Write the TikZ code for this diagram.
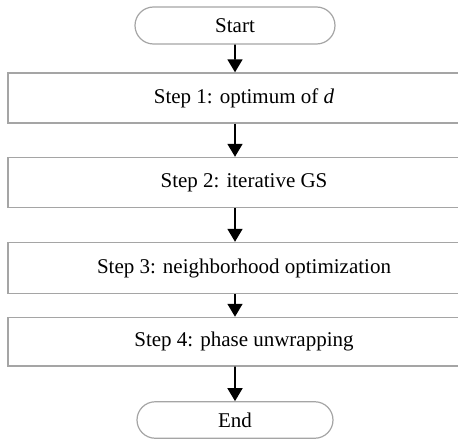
\documentclass[tikz,border=0pt]{standalone}
\usepackage{fontspec}
\setmainfont{Liberation Serif}
\usepackage{xcolor}
\usepackage{tikz}
\usetikzlibrary{arrows.meta, positioning, shapes.misc}
\definecolor{boxgray}{RGB}{165,165,165}

\begin{document}
\begin{tikzpicture}[
  x=1pt, y=-1pt,
  font=\fontsize{21}{24}\selectfont,
  term/.style={draw=boxgray, line width=1.2pt, rounded rectangle, inner sep=0pt, minimum width=200pt, minimum height=37pt},
  stepbox/.style={draw=boxgray, line width=1.4pt, inner sep=0pt, minimum width=472pt, minimum height=50pt},
  edge/.style={-{Triangle[width=15pt, length=13pt]}, line width=1.7pt}
]
\useasboundingbox (0,0) rectangle (458,441);
\node[term] (start) at (235,25.5) {Start};
\node[stepbox] (s1) at (244,98) {Step 1: optimum of \textit{d}};
\node[stepbox] (s2) at (244,182.5) {Step 2: iterative GS};
\node[stepbox, minimum height=51pt] (s3) at (244,268) {Step 3: neighborhood optimization};
\node[stepbox, minimum height=48.5pt] (s4) at (244,341.7) {Step 4: phase unwrapping};
\node[term, minimum width=196pt, minimum height=36.5pt] (end) at (235,420) {End};

% the boxes sit a little right of the arrow line
\draw[edge] (start) -- (start |- s1.north);
\draw[edge] (start |- s1.south) -- (start |- s2.north);
\draw[edge] (start |- s2.south) -- (start |- s3.north);
\draw[edge] (start |- s3.south) -- (start |- s4.north);
\draw[edge] (start |- s4.south) -- (end);
\end{tikzpicture}
\end{document}
